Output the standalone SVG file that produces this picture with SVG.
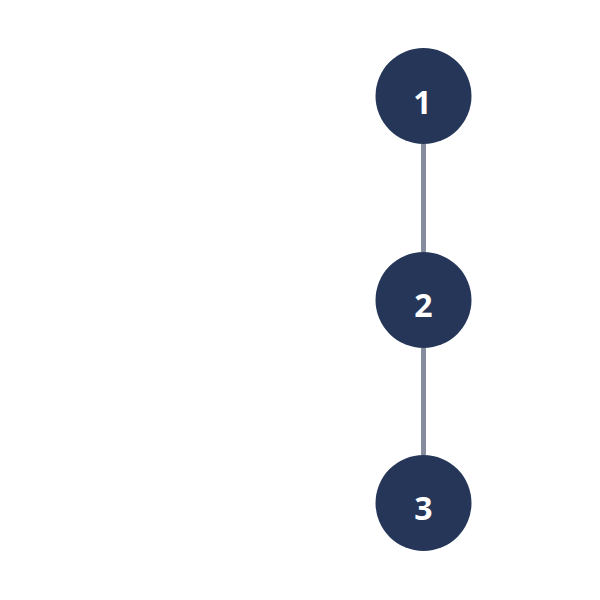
<svg xmlns="http://www.w3.org/2000/svg" width="600" height="600" viewBox="0 0 600 600">
<style>
.node circle{fill:#253659}
.node text{fill:#ffffff;font-family:"Open Sans","Noto Sans",sans-serif;font-weight:bold;font-size:32px;text-anchor:middle;dominant-baseline:central}
.edge{stroke:#868c9e;stroke-width:5}
</style>
<rect width="600" height="600" fill="#ffffff"/>
<g id="connectors">
<line class="edge" x1="423.5" y1="144" x2="423.5" y2="252"/>
<line class="edge" x1="423.5" y1="348" x2="423.5" y2="455"/>
</g>
<g id="node1" class="node"><circle cx="423.5" cy="96" r="48"/><text x="422.5" y="101">1</text></g>
<g id="node2" class="node"><circle cx="423.5" cy="300" r="48"/><text x="423.5" y="304">2</text></g>
<g id="node3" class="node"><circle cx="423.5" cy="503" r="48"/><text x="423.5" y="507">3</text></g>
</svg>
